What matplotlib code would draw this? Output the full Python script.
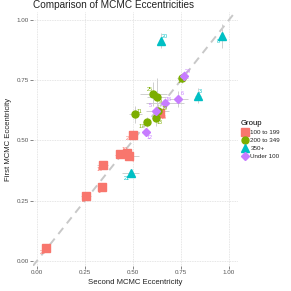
import matplotlib
matplotlib.use("Agg")
import matplotlib.pyplot as plt
from matplotlib.lines import Line2D

plt.rcParams["font.family"] = ["Liberation Sans", "DejaVu Sans"]

# data
ids = ["22", "2", "1", "16", "7", "10", "4", "23", "15",
       "11", "17", "13", "19", "25", "9", "14",
       "20", "8", "3", "21",
       "24", "6", "18", "5", "12"]
groups = ["100 to 199"] * 9 + ["200 to 349"] * 7 + ["350+"] * 4 + ["Under 100"] * 5
second_ecc = [0.047, 0.254, 0.337, 0.342, 0.432, 0.470, 0.479, 0.500, 0.640,
              0.512, 0.571, 0.618, 0.630, 0.606, 0.623, 0.757,
              0.646, 0.965, 0.837, 0.488,
              0.767, 0.736, 0.667, 0.620, 0.566]
first_ecc = [0.055, 0.271, 0.308, 0.398, 0.444, 0.447, 0.436, 0.523, 0.613,
             0.608, 0.576, 0.591, 0.622, 0.692, 0.682, 0.760,
             0.914, 0.934, 0.686, 0.366,
             0.768, 0.672, 0.654, 0.624, 0.535]
second_err = [0.02, 0.026, 0.02, 0.03, 0.02, 0.02, 0.05, 0.02, 0.02,
              0.035, 0.02, 0.02, 0.06, 0.07, 0.05, 0.03,
              0.01, 0.01, 0.015, 0.045,
              0.02, 0.05, 0.1, 0.02, 0.02]
first_err = [0.01, 0.01, 0.015, 0.01, 0.01, 0.015, 0.01, 0.02, 0.02,
             0.035, 0.02, 0.03, 0.03, 0.05, 0.075, 0.02,
             0.03, 0.05, 0.03, 0.01,
             0.02, 0.035, 0.02, 0.02, 0.01]
# label offsets in pixels (dx right, dy down)
lab_dx = [-3, -2, -3, -3, -4, -3, 3, -4, 4,
          4, -5, 4, 7, -4, 4, -2,
          4, -4, 3, -4,
          4, 4, 4, -6, 4]
lab_dy = [5, 5, 5, 5, 4, -4, 5, 4, 4,
          -3, 4, 4, -2, -5, 5, 4,
          -4, 6, -4, 6,
          -4, -5, -4, -5, 6]

group_names = ["100 to 199", "200 to 349", "350+", "Under 100"]
group_colors = ["#F8766D", "#7CAE00", "#00BFC4", "#C77CFF"]
group_markers = ["s", "o", "^", "D"]
group_sizes = [5.3, 5.0, 5.8, 3.7]

fig = plt.figure(figsize=(2.91, 2.91), dpi=100)
ax = fig.add_axes([0.113, 0.086, 0.705, 0.873])

ax.set_xlim(-0.021, 1.047)
ax.set_ylim(-0.021, 1.033)
ax.set_xticks([0, 0.25, 0.5, 0.75, 1.0])
ax.set_yticks([0, 0.25, 0.5, 0.75, 1.0])
ax.set_xticklabels(["0.00", "0.25", "0.50", "0.75", "1.00"])
ax.set_yticklabels(["0.00", "0.25", "0.50", "0.75", "1.00"])
ax.grid(True, color="#dddddd", linestyle=(0, (1, 1)), linewidth=0.6)
ax.set_axisbelow(True)
for s in ax.spines.values():
    s.set_visible(False)
ax.tick_params(length=2, width=0.5, color="#555555", labelsize=4.5,
               labelcolor="#555555", pad=1)

ax.axline((0, 0), slope=1, color="#c8c8c8", linewidth=1.4,
          linestyle=(0, (4, 3)), zorder=1)

ax.errorbar(second_ecc, first_ecc, xerr=second_err, yerr=first_err,
            fmt="none", ecolor="#cfcfcf", elinewidth=0.7, capsize=0, zorder=2)

px = 72 / 100
for i, g in enumerate(groups):
    k = group_names.index(g)
    ax.plot(second_ecc[i], first_ecc[i], marker=group_markers[k],
            color=group_colors[k], markersize=group_sizes[k],
            linestyle="none", zorder=3)
    ax.annotate(ids[i], (second_ecc[i], first_ecc[i]),
                xytext=(lab_dx[i] * px, -lab_dy[i] * px), textcoords="offset points",
                ha="center", va="center", fontsize=3.9, color=group_colors[k],
                zorder=4)

ax.set_title("Comparison of MCMC Eccentricities", fontsize=7.2, color="#222222",
             loc="left", pad=3)
ax.set_xlabel("Second MCMC Eccentricity", fontsize=5.6, color="#222222", labelpad=3)
ax.set_ylabel("First MCMC Eccentricity", fontsize=5.6, color="#222222", labelpad=3)

handles = [Line2D([], [], marker=m, color=c, markersize=s, linestyle="none")
           for m, c, s in zip(group_markers, group_colors, group_sizes)]
leg = fig.legend(handles, group_names, title="Group", loc="center left",
                 bbox_to_anchor=(0.82, 0.52), frameon=False, fontsize=4.5,
                 title_fontsize=5.6, handletextpad=0.3, labelspacing=0.4,
                 borderaxespad=0, handlelength=1.2)
leg._legend_box.align = "left"
for t in leg.get_texts():
    t.set_color("#222222")

fig.savefig("out.png", dpi=100, facecolor="white")
